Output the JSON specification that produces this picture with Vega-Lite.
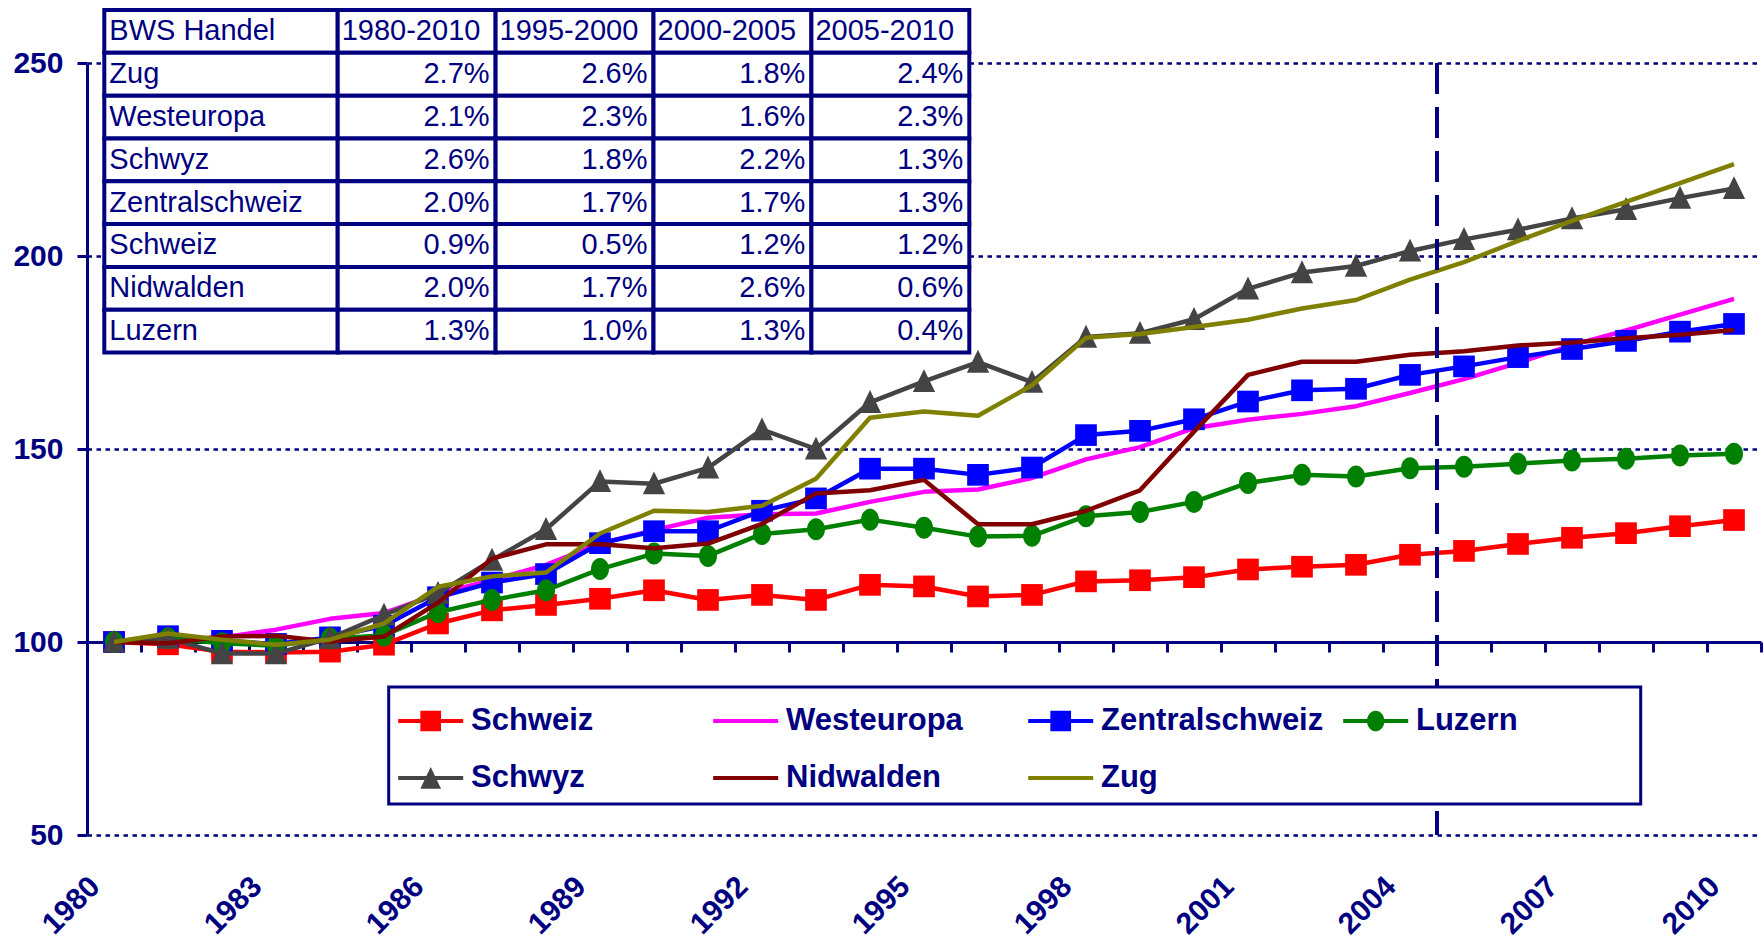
{
"$schema":"https://vega.github.io/schema/vega-lite/v6.json",
"width":1674,"height":772,"autosize":"none",
"padding":{"left":87,"top":63,"right":3,"bottom":105},
"background":"white",
"config":{"view":{"stroke":null},"font":"Liberation Sans","legend":{"strokeWidth":3}},
"datasets":{
"main":[
{"year":1980,"series":"Schweiz","value":100},{"year":1981,"series":"Schweiz","value":99.4},{"year":1982,"series":"Schweiz","value":97.5},{"year":1983,"series":"Schweiz","value":97.3},{"year":1984,"series":"Schweiz","value":97.5},{"year":1985,"series":"Schweiz","value":99.3},{"year":1986,"series":"Schweiz","value":104.8},{"year":1987,"series":"Schweiz","value":108.2},{"year":1988,"series":"Schweiz","value":109.6},{"year":1989,"series":"Schweiz","value":111.2},{"year":1990,"series":"Schweiz","value":113.4},{"year":1991,"series":"Schweiz","value":110.9},{"year":1992,"series":"Schweiz","value":112.2},{"year":1993,"series":"Schweiz","value":110.9},{"year":1994,"series":"Schweiz","value":114.8},{"year":1995,"series":"Schweiz","value":114.4},{"year":1996,"series":"Schweiz","value":111.8},{"year":1997,"series":"Schweiz","value":112.2},{"year":1998,"series":"Schweiz","value":115.7},{"year":1999,"series":"Schweiz","value":116.0},{"year":2000,"series":"Schweiz","value":116.8},{"year":2001,"series":"Schweiz","value":118.8},{"year":2002,"series":"Schweiz","value":119.5},{"year":2003,"series":"Schweiz","value":120.0},{"year":2004,"series":"Schweiz","value":122.6},{"year":2005,"series":"Schweiz","value":123.6},{"year":2006,"series":"Schweiz","value":125.4},{"year":2007,"series":"Schweiz","value":127.0},{"year":2008,"series":"Schweiz","value":128.2},{"year":2009,"series":"Schweiz","value":130.0},{"year":2010,"series":"Schweiz","value":131.6},
{"year":1980,"series":"Westeuropa","value":100},{"year":1981,"series":"Westeuropa","value":100.5},{"year":1982,"series":"Westeuropa","value":101.2},{"year":1983,"series":"Westeuropa","value":103.2},{"year":1984,"series":"Westeuropa","value":106.0},{"year":1985,"series":"Westeuropa","value":107.5},{"year":1986,"series":"Westeuropa","value":112.5},{"year":1987,"series":"Westeuropa","value":116.0},{"year":1988,"series":"Westeuropa","value":120.0},{"year":1989,"series":"Westeuropa","value":125.5},{"year":1990,"series":"Westeuropa","value":129.0},{"year":1991,"series":"Westeuropa","value":132.2},{"year":1992,"series":"Westeuropa","value":133.1},{"year":1993,"series":"Westeuropa","value":133.3},{"year":1994,"series":"Westeuropa","value":136.3},{"year":1995,"series":"Westeuropa","value":138.9},{"year":1996,"series":"Westeuropa","value":139.5},{"year":1997,"series":"Westeuropa","value":142.5},{"year":1998,"series":"Westeuropa","value":147.3},{"year":1999,"series":"Westeuropa","value":150.5},{"year":2000,"series":"Westeuropa","value":155.4},{"year":2001,"series":"Westeuropa","value":157.6},{"year":2002,"series":"Westeuropa","value":159.1},{"year":2003,"series":"Westeuropa","value":161.1},{"year":2004,"series":"Westeuropa","value":164.5},{"year":2005,"series":"Westeuropa","value":168.1},{"year":2006,"series":"Westeuropa","value":172.3},{"year":2007,"series":"Westeuropa","value":176.9},{"year":2008,"series":"Westeuropa","value":180.7},{"year":2009,"series":"Westeuropa","value":184.8},{"year":2010,"series":"Westeuropa","value":188.9},
{"year":1980,"series":"Zentralschweiz","value":100},{"year":1981,"series":"Zentralschweiz","value":101.5},{"year":1982,"series":"Zentralschweiz","value":100.3},{"year":1983,"series":"Zentralschweiz","value":99.5},{"year":1984,"series":"Zentralschweiz","value":101.2},{"year":1985,"series":"Zentralschweiz","value":104.2},{"year":1986,"series":"Zentralschweiz","value":111.6},{"year":1987,"series":"Zentralschweiz","value":115.4},{"year":1988,"series":"Zentralschweiz","value":117.6},{"year":1989,"series":"Zentralschweiz","value":125.6},{"year":1990,"series":"Zentralschweiz","value":128.7},{"year":1991,"series":"Zentralschweiz","value":128.7},{"year":1992,"series":"Zentralschweiz","value":134.0},{"year":1993,"series":"Zentralschweiz","value":137.2},{"year":1994,"series":"Zentralschweiz","value":144.9},{"year":1995,"series":"Zentralschweiz","value":144.9},{"year":1996,"series":"Zentralschweiz","value":143.3},{"year":1997,"series":"Zentralschweiz","value":145.2},{"year":1998,"series":"Zentralschweiz","value":153.6},{"year":1999,"series":"Zentralschweiz","value":154.7},{"year":2000,"series":"Zentralschweiz","value":157.7},{"year":2001,"series":"Zentralschweiz","value":162.3},{"year":2002,"series":"Zentralschweiz","value":165.2},{"year":2003,"series":"Zentralschweiz","value":165.6},{"year":2004,"series":"Zentralschweiz","value":169.2},{"year":2005,"series":"Zentralschweiz","value":171.4},{"year":2006,"series":"Zentralschweiz","value":173.8},{"year":2007,"series":"Zentralschweiz","value":175.9},{"year":2008,"series":"Zentralschweiz","value":178.0},{"year":2009,"series":"Zentralschweiz","value":180.4},{"year":2010,"series":"Zentralschweiz","value":182.4},
{"year":1980,"series":"Luzern","value":100},{"year":1981,"series":"Luzern","value":101.0},{"year":1982,"series":"Luzern","value":99.7},{"year":1983,"series":"Luzern","value":99.0},{"year":1984,"series":"Luzern","value":100.9},{"year":1985,"series":"Luzern","value":101.7},{"year":1986,"series":"Luzern","value":107.7},{"year":1987,"series":"Luzern","value":110.9},{"year":1988,"series":"Luzern","value":113.4},{"year":1989,"series":"Luzern","value":118.9},{"year":1990,"series":"Luzern","value":122.9},{"year":1991,"series":"Luzern","value":122.3},{"year":1992,"series":"Luzern","value":128.0},{"year":1993,"series":"Luzern","value":129.2},{"year":1994,"series":"Luzern","value":131.7},{"year":1995,"series":"Luzern","value":129.6},{"year":1996,"series":"Luzern","value":127.3},{"year":1997,"series":"Luzern","value":127.5},{"year":1998,"series":"Luzern","value":132.6},{"year":1999,"series":"Luzern","value":133.7},{"year":2000,"series":"Luzern","value":136.3},{"year":2001,"series":"Luzern","value":141.2},{"year":2002,"series":"Luzern","value":143.3},{"year":2003,"series":"Luzern","value":142.9},{"year":2004,"series":"Luzern","value":145.0},{"year":2005,"series":"Luzern","value":145.4},{"year":2006,"series":"Luzern","value":146.2},{"year":2007,"series":"Luzern","value":147.0},{"year":2008,"series":"Luzern","value":147.5},{"year":2009,"series":"Luzern","value":148.3},{"year":2010,"series":"Luzern","value":148.8},
{"year":1980,"series":"Schwyz","value":100},{"year":1981,"series":"Schwyz","value":101.0},{"year":1982,"series":"Schwyz","value":97.0},{"year":1983,"series":"Schwyz","value":97.0},{"year":1984,"series":"Schwyz","value":101.0},{"year":1985,"series":"Schwyz","value":107.0},{"year":1986,"series":"Schwyz","value":112.6},{"year":1987,"series":"Schwyz","value":121.2},{"year":1988,"series":"Schwyz","value":129.2},{"year":1989,"series":"Schwyz","value":141.6},{"year":1990,"series":"Schwyz","value":141.0},{"year":1991,"series":"Schwyz","value":145.1},{"year":1992,"series":"Schwyz","value":155.0},{"year":1993,"series":"Schwyz","value":150.0},{"year":1994,"series":"Schwyz","value":162.1},{"year":1995,"series":"Schwyz","value":167.5},{"year":1996,"series":"Schwyz","value":172.5},{"year":1997,"series":"Schwyz","value":167.3},{"year":1998,"series":"Schwyz","value":179.0},{"year":1999,"series":"Schwyz","value":180.0},{"year":2000,"series":"Schwyz","value":183.6},{"year":2001,"series":"Schwyz","value":191.5},{"year":2002,"series":"Schwyz","value":195.7},{"year":2003,"series":"Schwyz","value":197.4},{"year":2004,"series":"Schwyz","value":201.3},{"year":2005,"series":"Schwyz","value":204.3},{"year":2006,"series":"Schwyz","value":206.8},{"year":2007,"series":"Schwyz","value":209.7},{"year":2008,"series":"Schwyz","value":212.1},{"year":2009,"series":"Schwyz","value":215.0},{"year":2010,"series":"Schwyz","value":217.5},
{"year":1980,"series":"Nidwalden","value":100},{"year":1981,"series":"Nidwalden","value":99.7},{"year":1982,"series":"Nidwalden","value":101.4},{"year":1983,"series":"Nidwalden","value":101.6},{"year":1984,"series":"Nidwalden","value":100.1},{"year":1985,"series":"Nidwalden","value":101.4},{"year":1986,"series":"Nidwalden","value":110.2},{"year":1987,"series":"Nidwalden","value":121.6},{"year":1988,"series":"Nidwalden","value":125.3},{"year":1989,"series":"Nidwalden","value":125.3},{"year":1990,"series":"Nidwalden","value":124.3},{"year":1991,"series":"Nidwalden","value":125.5},{"year":1992,"series":"Nidwalden","value":130.6},{"year":1993,"series":"Nidwalden","value":138.5},{"year":1994,"series":"Nidwalden","value":139.3},{"year":1995,"series":"Nidwalden","value":142.0},{"year":1996,"series":"Nidwalden","value":130.5},{"year":1997,"series":"Nidwalden","value":130.5},{"year":1998,"series":"Nidwalden","value":134.0},{"year":1999,"series":"Nidwalden","value":139.3},{"year":2000,"series":"Nidwalden","value":154.5},{"year":2001,"series":"Nidwalden","value":169.2},{"year":2002,"series":"Nidwalden","value":172.6},{"year":2003,"series":"Nidwalden","value":172.6},{"year":2004,"series":"Nidwalden","value":174.4},{"year":2005,"series":"Nidwalden","value":175.3},{"year":2006,"series":"Nidwalden","value":176.8},{"year":2007,"series":"Nidwalden","value":177.6},{"year":2008,"series":"Nidwalden","value":178.7},{"year":2009,"series":"Nidwalden","value":179.6},{"year":2010,"series":"Nidwalden","value":180.8},
{"year":1980,"series":"Zug","value":100},{"year":1981,"series":"Zug","value":102.2},{"year":1982,"series":"Zug","value":100.6},{"year":1983,"series":"Zug","value":99.3},{"year":1984,"series":"Zug","value":100.6},{"year":1985,"series":"Zug","value":104.8},{"year":1986,"series":"Zug","value":114.3},{"year":1987,"series":"Zug","value":117.0},{"year":1988,"series":"Zug","value":118.0},{"year":1989,"series":"Zug","value":128.1},{"year":1990,"series":"Zug","value":134.0},{"year":1991,"series":"Zug","value":133.7},{"year":1992,"series":"Zug","value":135.3},{"year":1993,"series":"Zug","value":142.3},{"year":1994,"series":"Zug","value":158.1},{"year":1995,"series":"Zug","value":159.7},{"year":1996,"series":"Zug","value":158.6},{"year":1997,"series":"Zug","value":166.5},{"year":1998,"series":"Zug","value":178.8},{"year":1999,"series":"Zug","value":179.8},{"year":2000,"series":"Zug","value":181.6},{"year":2001,"series":"Zug","value":183.5},{"year":2002,"series":"Zug","value":186.4},{"year":2003,"series":"Zug","value":188.6},{"year":2004,"series":"Zug","value":193.9},{"year":2005,"series":"Zug","value":198.4},{"year":2006,"series":"Zug","value":203.9},{"year":2007,"series":"Zug","value":209.1},{"year":2008,"series":"Zug","value":214.0},{"year":2009,"series":"Zug","value":218.9},{"year":2010,"series":"Zug","value":223.8}
],
"table":[
{"row":"BWS Handel","col":"Name","text":"BWS Handel"},{"row":"Zug","col":"Name","text":"Zug"},{"row":"Westeuropa","col":"Name","text":"Westeuropa"},{"row":"Schwyz","col":"Name","text":"Schwyz"},{"row":"Zentralschweiz","col":"Name","text":"Zentralschweiz"},{"row":"Schweiz","col":"Name","text":"Schweiz"},{"row":"Nidwalden","col":"Name","text":"Nidwalden"},{"row":"Luzern","col":"Name","text":"Luzern"},
{"row":"BWS Handel","col":"1980-2010","text":"1980-2010"},{"row":"BWS Handel","col":"1995-2000","text":"1995-2000"},{"row":"BWS Handel","col":"2000-2005","text":"2000-2005"},{"row":"BWS Handel","col":"2005-2010","text":"2005-2010"},
{"row":"Zug","col":"1980-2010","text":"2.7%"},{"row":"Zug","col":"1995-2000","text":"2.6%"},{"row":"Zug","col":"2000-2005","text":"1.8%"},{"row":"Zug","col":"2005-2010","text":"2.4%"},
{"row":"Westeuropa","col":"1980-2010","text":"2.1%"},{"row":"Westeuropa","col":"1995-2000","text":"2.3%"},{"row":"Westeuropa","col":"2000-2005","text":"1.6%"},{"row":"Westeuropa","col":"2005-2010","text":"2.3%"},
{"row":"Schwyz","col":"1980-2010","text":"2.6%"},{"row":"Schwyz","col":"1995-2000","text":"1.8%"},{"row":"Schwyz","col":"2000-2005","text":"2.2%"},{"row":"Schwyz","col":"2005-2010","text":"1.3%"},
{"row":"Zentralschweiz","col":"1980-2010","text":"2.0%"},{"row":"Zentralschweiz","col":"1995-2000","text":"1.7%"},{"row":"Zentralschweiz","col":"2000-2005","text":"1.7%"},{"row":"Zentralschweiz","col":"2005-2010","text":"1.3%"},
{"row":"Schweiz","col":"1980-2010","text":"0.9%"},{"row":"Schweiz","col":"1995-2000","text":"0.5%"},{"row":"Schweiz","col":"2000-2005","text":"1.2%"},{"row":"Schweiz","col":"2005-2010","text":"1.2%"},
{"row":"Nidwalden","col":"1980-2010","text":"2.0%"},{"row":"Nidwalden","col":"1995-2000","text":"1.7%"},{"row":"Nidwalden","col":"2000-2005","text":"2.6%"},{"row":"Nidwalden","col":"2005-2010","text":"0.6%"},
{"row":"Luzern","col":"1980-2010","text":"1.3%"},{"row":"Luzern","col":"1995-2000","text":"1.0%"},{"row":"Luzern","col":"2000-2005","text":"1.3%"},{"row":"Luzern","col":"2005-2010","text":"0.4%"}
]
},
"layer":[
{
"data":{"name":"main"},
"encoding":{
"x":{"field":"year","type":"quantitative","scale":{"domain":[1979.5,2010.5],"nice":false,"zero":false},"axis":null},
"y":{"field":"value","type":"quantitative","scale":{"domain":[50,250],"nice":false,"zero":false},"axis":{"values":[50,100,150,200,250],"title":null,"domainColor":"#000080","domainWidth":3,"tickColor":"#000080","tickWidth":3,"tickSize":10,"labelFontWeight":"bold","labelFontSize":30,"labelColor":"#000080","labelPadding":14,"labelFlush":false,"labelOverlap":false,"grid":true,"gridColor":"#000080","gridDash":[4.5,4.5],"gridWidth":2.5,"gridOpacity":1}},
"color":{"field":"series","type":"nominal","scale":{"domain":["Luzern","Nidwalden","Schweiz","Schwyz","Westeuropa","Zentralschweiz","Zug"],"range":["#008000","#800000","#FF0000","#444444","#FF00FF","#0000FF","#808000"]},"legend":null}
},
"layer":[
{"transform":[{"filter":"datum.series==='Schweiz'"}],"mark":{"type":"line","strokeWidth":4.5,"strokeJoin":"round"},
"encoding":{"x":{"field":"year","type":"quantitative","scale":{"domain":[1979.5,2010.5],"nice":false,"zero":false},"axis":{"values":[1980,1983,1986,1989,1992,1995,1998,2001,2004,2007,2010],"format":"d","title":null,"orient":"bottom","labelAngle":-45,"labelFontWeight":"bold","labelFontSize":30,"labelColor":"#000080","labelPadding":36,"labelOffset":-30,"ticks":false,"domain":false,"grid":false,"labelFlush":false,"labelOverlap":false,"labelBound":false}}}},
{"transform":[{"filter":"datum.series==='Schweiz'"}],"mark":{"type":"point","filled":true,"opacity":1,"shape":"square","size":470,"strokeWidth":0}},
{"transform":[{"filter":"datum.series==='Westeuropa'"}],"mark":{"type":"line","strokeWidth":4.5,"strokeJoin":"round"},
"encoding":{"x":{"field":"year","type":"quantitative","scale":{"domain":[1979.5,2010.5],"nice":false,"zero":false},"axis":{"values":[1980.5,1981.5,1982.5,1983.5,1984.5,1985.5,1986.5,1987.5,1988.5,1989.5,1990.5,1991.5,1992.5,1993.5,1994.5,1995.5,1996.5,1997.5,1998.5,1999.5,2000.5,2001.5,2002.5,2003.5,2004.5,2005.5,2006.5,2007.5,2008.5,2009.5,2010.5],"title":null,"orient":"bottom","labels":false,"ticks":true,"tickSize":10,"tickWidth":3,"tickColor":"#000080","domain":true,"domainColor":"#000080","domainWidth":3,"grid":false,"offset":-193}}}},
{"transform":[{"filter":"datum.series==='Zentralschweiz'"}],"mark":{"type":"line","strokeWidth":4.5,"strokeJoin":"round"}},
{"transform":[{"filter":"datum.series==='Zentralschweiz'"}],"mark":{"type":"point","filled":true,"opacity":1,"shape":"square","size":470,"strokeWidth":0}},
{"transform":[{"filter":"datum.series==='Luzern'"}],"mark":{"type":"line","strokeWidth":4.5,"strokeJoin":"round"}},
{"transform":[{"filter":"datum.series==='Luzern'"}],"mark":{"type":"point","filled":true,"opacity":1,"shape":"M0,-1.1A0.9,1.1 0 1,1 0,1.1A0.9,1.1 0 1,1 0,-1.1Z","size":400,"strokeWidth":0}},
{"transform":[{"filter":"datum.series==='Schwyz'"}],"mark":{"type":"line","strokeWidth":4.5,"strokeJoin":"round"}},
{"transform":[{"filter":"datum.series==='Schwyz'"}],"mark":{"type":"point","filled":true,"opacity":1,"shape":"M0,-1.1L1,0.95L-1,0.95Z","size":500,"strokeWidth":0}},
{"transform":[{"filter":"datum.series==='Nidwalden'"}],"mark":{"type":"line","strokeWidth":4.5,"strokeJoin":"round"}},
{"transform":[{"filter":"datum.series==='Zug'"}],"mark":{"type":"line","strokeWidth":4.5,"strokeJoin":"round"}},
{"mark":{"type":"rule","color":"#000080","strokeWidth":4,"strokeDash":[31,13]},
"encoding":{"x":{"datum":2004.5,"type":"quantitative","axis":null},"y":{"datum":250,"type":"quantitative"},"y2":{"datum":50},"color":{"value":"#000080"}}},
{"transform":[{"filter":"false"}],"mark":{"type":"point","filled":true,"opacity":1},
"encoding":{
"color":{"value":"#000080"},
"fill":{"field":"series","type":"nominal","scale":{"domain":["Schweiz","Westeuropa","Zentralschweiz","Luzern","Schwyz","Nidwalden","Zug"],"range":["#FF0000","#FF00FF","#0000FF","#008000","#444444","#800000","#808000"]},
"legend":{"orient":"none","legendX":301.7,"legendY":624,"columns":4,"direction":"horizontal","gridAlign":"all","title":" ","titleOrient":"right","titleFontSize":1,"titlePadding":112,"symbolSize":2116,"symbolOffset":8,"labelOffset":17.3,"symbolStrokeWidth":0,"symbolOpacity":1,"labelFontSize":31,"labelFontWeight":"bold","labelColor":"#000080","labelLimit":0,"columnPadding":19,"rowPadding":19,"padding":11,"strokeColor":"#000080","fillColor":"white"}},
"shape":{"field":"series","type":"nominal","scale":{"domain":["Schweiz","Westeuropa","Zentralschweiz","Luzern","Schwyz","Nidwalden","Zug"],"range":[
"M-1.413,-0.087H1.413V0.087H-1.413Z M-0.45,-0.45H0.45V0.45H-0.45Z",
"M-1.413,-0.087H1.413V0.087H-1.413Z",
"M-1.413,-0.087H1.413V0.087H-1.413Z M-0.45,-0.45H0.45V0.45H-0.45Z",
"M-1.413,-0.087H1.413V0.087H-1.413Z M0,-0.45A0.38,0.45 0 1,1 0,0.45A0.38,0.45 0 1,1 0,-0.45Z",
"M-1.413,-0.087H1.413V0.087H-1.413Z M0,-0.478L0.45,0.465H-0.45Z",
"M-1.413,-0.087H1.413V0.087H-1.413Z",
"M-1.413,-0.087H1.413V0.087H-1.413Z"]}}
}}
],
"resolve":{"axis":{"x":"independent"}}
},
{
"data":{"name":"table"},
"encoding":{"y":{"field":"row","type":"nominal","scale":{"domain":["BWS Handel","Zug","Westeuropa","Schwyz","Zentralschweiz","Schweiz","Nidwalden","Luzern"],"range":[-53,289.5],"paddingInner":0,"paddingOuter":0},"axis":null}},
"layer":[
{"transform":[{"filter":"datum.col==='Name'"}],
"encoding":{"x":{"field":"col","type":"nominal","scale":{"domain":["Name"],"range":[17.3,250.7],"paddingInner":0,"paddingOuter":0},"axis":null}},
"layer":[
{"mark":{"type":"rect","fill":"white","stroke":"#000080","strokeWidth":4}},
{"mark":{"type":"text","align":"left","baseline":"middle","dx":5,"fontSize":29,"fill":"#000080"},
"encoding":{"x":{"field":"col","type":"nominal","bandPosition":0,"axis":null},"text":{"field":"text"}}}
]},
{"transform":[{"filter":"datum.col!=='Name'"}],
"encoding":{"x":{"field":"col","type":"nominal","scale":{"domain":["1980-2010","1995-2000","2000-2005","2005-2010"],"range":[250.7,882.3],"paddingInner":0,"paddingOuter":0},"axis":null}},
"layer":[
{"mark":{"type":"rect","fill":"white","stroke":"#000080","strokeWidth":4}},
{"transform":[{"filter":"datum.row==='BWS Handel'"}],"mark":{"type":"text","align":"left","baseline":"middle","dx":4,"fontSize":29,"fill":"#000080"},
"encoding":{"x":{"field":"col","type":"nominal","bandPosition":0,"axis":null},"text":{"field":"text"}}},
{"transform":[{"filter":"datum.row!=='BWS Handel'"}],"mark":{"type":"text","align":"right","baseline":"middle","dx":-6,"fontSize":29,"fill":"#000080"},
"encoding":{"x":{"field":"col","type":"nominal","bandPosition":1,"axis":null},"text":{"field":"text"}}}
]}
],
"resolve":{"scale":{"x":"independent"}}
}
],
"resolve":{"scale":{"x":"independent","y":"independent"}}
}
